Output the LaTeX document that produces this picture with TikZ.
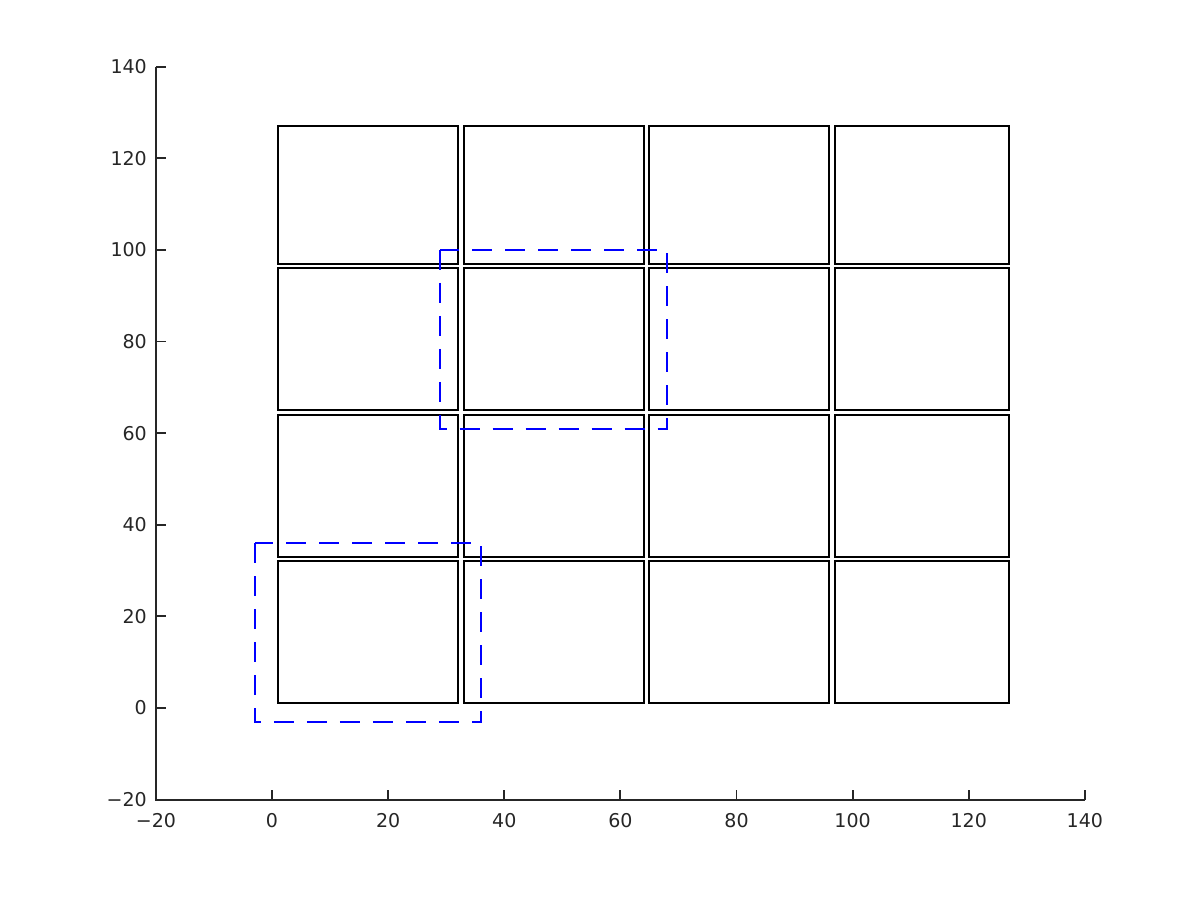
\documentclass[tikz,border=0pt]{standalone}
\usepackage{fontspec}
\setmainfont{DejaVu Sans}
\definecolor{axgray}{RGB}{38,38,38}
\tikzset{
  cell/.style={draw=black, line width=1pt},
  sel/.style={draw=blue, line width=1pt, dash pattern=on 10pt off 6.5pt},
  axis/.style={draw=axgray, line width=0.9pt},
  ticklab/.style={text=axgray, font=\fontsize{9.5pt}{11pt}\selectfont, inner sep=0pt},
}
\newcommand{\mylab}[1]{\ifnum#1<0 −\number\numexpr-#1\relax\else#1\fi}
\begin{document}
\begin{tikzpicture}[x=2.903pt, y=2.2905pt]
\useasboundingbox (-46.85,-41.91) rectangle (159.83,154.55);
% axes
\draw[axis] (-20,140) -- (-20,-20) -- (140,-20);
\foreach \v in {-20,0,...,140} {
  \draw[axis] (\v,-20) -- (\v,-17.82);
  \node[ticklab, anchor=center] (xl\v) at (\v,-24.67) {\mylab{\v}};
  \draw[axis] (-20,\v) -- (-18.28,\v);
  \node[ticklab, anchor=east] (yl\v) at (-21.5,\v) {\mylab{\v}};
}
% cells
\foreach \a/\b in {1/32,33/64,65/96,97/127} {
  \foreach \c/\d in {1/32,33/64,65/96,97/127} {
    \draw[cell] (\a,\c) rectangle (\b,\d);
  }
}
% dashed windows
\draw[sel] (-3,36) -- (-3,-3) -- (36,-3) -- (36,36) -- cycle;
\draw[sel] (29,100) -- (29,61) -- (68,61) -- (68,100) -- cycle;
\end{tikzpicture}
\end{document}
